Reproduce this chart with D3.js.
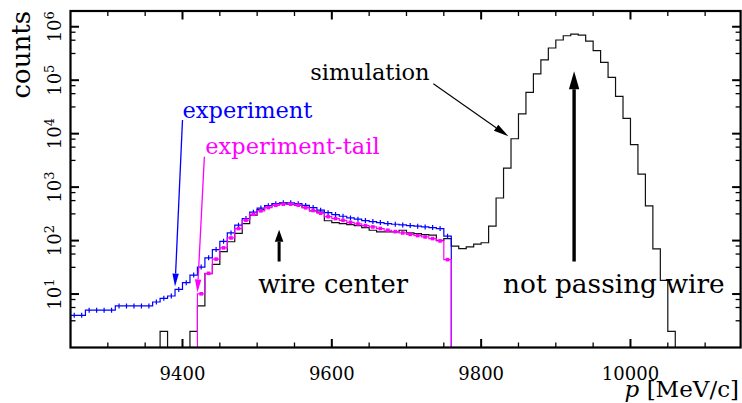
<!DOCTYPE html>
<html>
<head>
<meta charset="utf-8">
<script src="https://cdn.jsdelivr.net/npm/d3@7"></script>
<style>
  html, body { margin: 0; padding: 0; background: #fff; }
  svg { display: block; }
  text { font-family: "DejaVu Serif", serif; }
</style>
</head>
<body>
<svg id="chart" width="742" height="403"></svg>
<script>
// Momentum histograms, 10 MeV/c bins, counts per bin (log scale)
const binWidth = 10;

const experimentStart = 9250;
const experiment = [
  4.0, 4.0, 5.0, 5.0, 5.0, 5.0, 6.0, 6.0, 6.0, 6.0,
  6.0, 7.1, 8.3, 9.2, 12.2, 16.3, 22.6, 32, 47.5, 68,
  97, 139, 194, 258, 340, 405, 450, 490, 510, 510,
  490, 455, 414, 370, 333, 307, 285, 265, 251, 237,
  227, 217, 208, 202, 196, 191, 186, 180, 175, 168,
  121
];

const tailStart = 9420;
const experimentTail = [
  10.1, 24.4, 45, 73, 112, 168, 240, 310, 360, 414,
  457, 480, 480, 460, 410, 365, 325, 280, 258, 239,
  219, 205, 191, 180, 168, 156, 147, 139, 131, 124,
  117, 109, 98.5, 44
];

const simulationStart = 9370;
const simulation = [
  2, 0, 0, 0, 2, 6, 24, 36, 62, 95,
  136, 208, 298, 380, 450, 490, 500, 475, 455, 420,
  360, 340, 235, 217, 208, 199, 191, 175, 156, 145,
  145, 145, 156, 139, 135, 129, 127, 101, 109, 79,
  71, 76, 86, 91, 186, 626, 2270, 8040, 23500, 59400,
  131000, 239000, 400000, 565000, 679000, 725000, 695000, 540000, 357000, 216000,
  113000, 50000, 19400, 6230, 1750, 444, 70, 18, 2
];

const xMajorTicks = [9400, 9600, 9800, 10000];
const xTickLabels = ["9400", "9600", "9800", "10000"];
const xMinorStep = 50;
const yMajorTicks = [1e1, 1e2, 1e3, 1e4, 1e5, 1e6];
const yTickExponents = ["1", "2", "3", "4", "5", "6"];
const yMinorFactors = [3.16, 5.6, 7.9];

const svg = d3.select("#chart");
const frame = { left: 70.5, right: 740.6, top: 11, bottom: 347.5 };

const x = d3.scaleLinear().domain([9250, 10147.5]).range([frame.left, frame.right]);
const y = d3.scaleLog().domain([1, 1.97e6]).range([frame.bottom, frame.top]);
const yBase = y(1);

svg.append("defs").append("clipPath").attr("id", "plotClip")
  .append("rect")
  .attr("x", frame.left).attr("y", frame.top)
  .attr("width", frame.right - frame.left).attr("height", frame.bottom - frame.top);

// Build a histogram outline: rises from the base, steps through every bin, drops back down
function stepPoints(start, values) {
  const pts = [[x(start), yBase]];
  values.forEach((v, i) => {
    const yy = v >= 1 ? y(v) : yBase;
    pts.push([x(start + i * binWidth), yy]);
    pts.push([x(start + (i + 1) * binWidth), yy]);
  });
  pts.push([x(start + values.length * binWidth), yBase]);
  return pts;
}
const line = d3.line();
const plot = svg.append("g").attr("clip-path", "url(#plotClip)");

// simulation
plot.append("path")
  .attr("d", line(stepPoints(simulationStart, simulation)))
  .attr("fill", "none").attr("stroke", "#111").attr("stroke-width", 1.2);

// experiment
plot.append("path")
  .attr("d", line(stepPoints(experimentStart, experiment)))
  .attr("fill", "none").attr("stroke", "#0000ff").attr("stroke-width", 1.2);
plot.append("g").selectAll("line")
  .data(experiment)
  .join("line")
  .attr("x1", (d, i) => x(experimentStart + (i + 0.5) * binWidth))
  .attr("x2", (d, i) => x(experimentStart + (i + 0.5) * binWidth))
  .attr("y1", d => y(d) - 2.5)
  .attr("y2", d => y(d) + 2.5)
  .attr("stroke", "#0000ff").attr("stroke-width", 1.2);

// experiment-tail
plot.append("path")
  .attr("d", line(stepPoints(tailStart, experimentTail)))
  .attr("fill", "none").attr("stroke", "#ff00ff").attr("stroke-width", 1.2);
plot.append("g").selectAll("rect")
  .data(experimentTail)
  .join("rect")
  .attr("x", (d, i) => x(tailStart + (i + 0.5) * binWidth) - 1.8)
  .attr("y", d => y(d) - 1.8)
  .attr("width", 3.6).attr("height", 3.6)
  .attr("fill", "#ff00ff");

// frame and ticks
const axes = svg.append("g");
const xMinor = d3.range(9300, 10147, xMinorStep).filter(v => !xMajorTicks.includes(v));
function xTick(v, len, w) {
  axes.append("line").attr("x1", x(v)).attr("x2", x(v))
    .attr("y1", frame.bottom).attr("y2", frame.bottom - len)
    .attr("stroke", "#000").attr("stroke-width", w);
  axes.append("line").attr("x1", x(v)).attr("x2", x(v))
    .attr("y1", frame.top).attr("y2", frame.top + len)
    .attr("stroke", "#000").attr("stroke-width", w);
}
xMinor.forEach(v => xTick(v, 5, 1.3));
xMajorTicks.forEach(v => xTick(v, 8.5, 2));

function yTick(v, len, w) {
  axes.append("line").attr("x1", frame.left).attr("x2", frame.left + len)
    .attr("y1", y(v)).attr("y2", y(v))
    .attr("stroke", "#000").attr("stroke-width", w);
  axes.append("line").attr("x1", frame.right).attr("x2", frame.right - len)
    .attr("y1", y(v)).attr("y2", y(v))
    .attr("stroke", "#000").attr("stroke-width", w);
}
[1, 10, 100, 1e3, 1e4, 1e5, 1e6].forEach(dec => {
  yMinorFactors.forEach(f => {
    const v = dec * f;
    if (v < y.domain()[1]) yTick(v, 5, 1.3);
  });
});
yMajorTicks.forEach(v => yTick(v, 8.5, 2));

axes.append("rect")
  .attr("x", frame.left).attr("y", frame.top)
  .attr("width", frame.right - frame.left).attr("height", frame.bottom - frame.top)
  .attr("fill", "none").attr("stroke", "#000").attr("stroke-width", 2.2);

// tick labels
svg.append("g").selectAll("text")
  .data(xMajorTicks)
  .join("text")
  .attr("x", d => x(d)).attr("y", 380)
  .attr("text-anchor", "middle").attr("font-size", 18)
  .text((d, i) => xTickLabels[i]);

const yLab = svg.append("g").selectAll("text")
  .data(yMajorTicks)
  .join("text")
  .attr("transform", d => `translate(61,${y(d)}) rotate(-90)`)
  .attr("text-anchor", "middle").attr("font-size", 18);
yLab.append("tspan").text("10");
yLab.append("tspan").attr("dy", -7).attr("font-size", 13).text((d, i) => yTickExponents[i]);

// axis titles
const xTitle = svg.append("text")
  .attr("x", 739).attr("y", 397)
  .attr("text-anchor", "end").attr("font-size", 23);
xTitle.append("tspan").attr("font-style", "italic").text("p");
xTitle.append("tspan").text(" [MeV/c]");

svg.append("text")
  .attr("transform", "translate(30,11) rotate(-90)")
  .attr("text-anchor", "end").attr("font-size", 26)
  .text("counts");

// annotations
const notes = svg.append("g");
function arrow(x1, y1, x2, y2, color, width, headLen, headHalf) {
  const ang = Math.atan2(y2 - y1, x2 - x1);
  const bx = x2 - headLen * Math.cos(ang), by = y2 - headLen * Math.sin(ang);
  notes.append("line").attr("x1", x1).attr("y1", y1).attr("x2", bx).attr("y2", by)
    .attr("stroke", color).attr("stroke-width", width);
  const px = -Math.sin(ang) * headHalf, py = Math.cos(ang) * headHalf;
  notes.append("polygon")
    .attr("points", `${x2},${y2} ${bx + px},${by + py} ${bx - px},${by - py}`)
    .attr("fill", color);
}
function label(txt, vx, vy, size, color) {
  notes.append("text").attr("x", x(vx)).attr("y", y(vy))
    .attr("font-size", size).attr("fill", color).text(txt);
}

label("simulation", 9571, 1.0e5, 22.5, "#000");
arrow(x(9736), y(8.6e4), x(9836.5), y(8900), "#000", 1.1, 15, 3.8);

label("experiment", 9400, 2.0e4, 22.5, "#0000ff");
arrow(x(9400), y(1.8e4), x(9390), y(13.8), "#0000ff", 1.3, 13, 3.2);

label("experiment-tail", 9430.5, 4200, 22.5, "#ff00ff");
arrow(x(9429.3), y(3700), x(9420), y(10.7), "#ff00ff", 1.3, 13, 3.2);

label("wire center", 9501.3, 10.5, 25.7, "#000");
arrow(x(9529.4), y(40.6), x(9529.4), y(159), "#000", 3, 12, 4.3);

label("not passing wire", 9829.4, 10.5, 26.4, "#000");
arrow(x(9924.5), y(40.6), x(9924.5), y(1.47e5), "#000", 3.4, 18, 5.2);
</script>
</body>
</html>
